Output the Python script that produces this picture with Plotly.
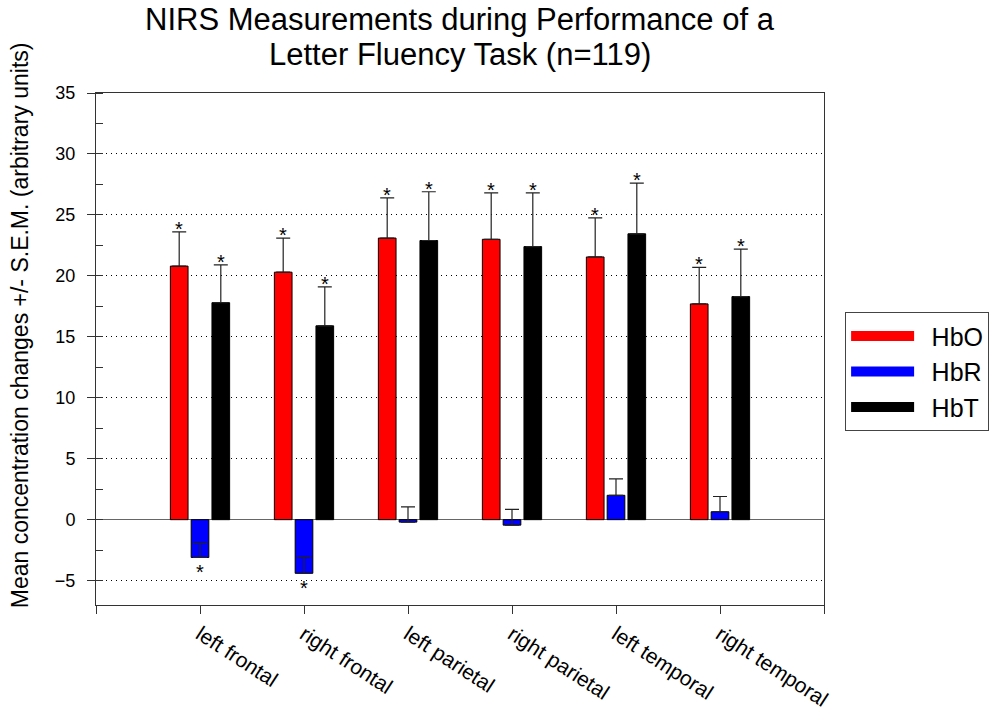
import plotly.graph_objects as go

regions = ["left frontal", "right frontal", "left parietal", "right parietal", "left temporal", "right temporal"]
series = ["HbO", "HbR", "HbT"]
hbo = [20.8, 20.3, 23.1, 23.0, 21.55, 17.7]
hbo_sem = [2.8, 2.8, 3.3, 3.8, 3.2, 3.0]
hbr = [-3.1, -4.4, -0.2, -0.45, 2.0, 0.65]
hbr_sem = [1.15, 1.35, 1.25, 1.3, 1.35, 1.25]
hbt = [17.8, 15.9, 22.9, 22.4, 23.45, 18.3]
hbt_sem = [3.1, 3.2, 4.0, 4.4, 4.15, 3.9]
hbo_sig = [True, True, True, True, True, True]
hbr_sig = [True, True, False, False, False, False]
hbt_sig = [True, True, True, True, True, True]
colors = ["#ff0000", "#0000ff", "#000000"]
title_lines = ["NIRS Measurements during Performance of a", "Letter Fluency Task (n=119)"]
y_title = "Mean concentration changes +/- S.E.M. (arbitrary units)"

x_pos = list(range(1, len(regions) + 1))
values = [hbo, hbr, hbt]
sems = [hbo_sem, hbr_sem, hbt_sem]
sigs = [hbo_sig, hbr_sig, hbt_sig]

FONT = "Liberation Sans, Arial, sans-serif"
BARGAP = 0.40
BARGROUPGAP = 0.15
n_series = len(series)
slot = (1 - BARGAP) / n_series

fig = go.Figure()
for name, vals, sem, col in zip(series, values, sems, colors):
    fig.add_trace(go.Bar(
        x=x_pos, y=vals, name=name, marker=dict(color=col, line=dict(color="#000000", width=1)),
        error_y=dict(type="data", array=sem, arrayminus=[0] * len(sem), symmetric=False,
                     color="#222222", thickness=1.2, width=7),
        showlegend=False, hoverinfo="skip",
    ))

# legend entries (wide swatches)
for name, col in zip(series, colors):
    fig.add_trace(go.Scatter(
        x=[None], y=[None], mode="lines", name="\u2002" + name,
        line=dict(color=col, width=14), showlegend=True, hoverinfo="skip",
    ))

annotations = []
# significance asterisks centred on each bar
for k, (vals, sem, sig) in enumerate(zip(values, sems, sigs)):
    offset = (k - (n_series - 1) / 2) * slot
    for xi, v, s, g in zip(x_pos, vals, sem, sig):
        if not g:
            continue
        if v >= 0:
            annotations.append(dict(x=xi + offset, y=v + s, xref="x", yref="y", text="*",
                                    showarrow=False, yanchor="middle", yshift=3,
                                    font=dict(size=20, family=FONT, color="#000000")))
        else:
            annotations.append(dict(x=xi + offset, y=v, xref="x", yref="y", text="*",
                                    showarrow=False, yanchor="middle", yshift=-15,
                                    font=dict(size=20, family=FONT, color="#000000")))

# title (two lines)
annotations.append(dict(text=title_lines[0], xref="paper", yref="paper", x=0.5, y=1.143,
                        xanchor="center", yanchor="middle", showarrow=False,
                        font=dict(size=31, family=FONT, color="#000000")))
annotations.append(dict(text=title_lines[1], xref="paper", yref="paper", x=0.5, y=1.075,
                        xanchor="center", yanchor="middle", showarrow=False,
                        font=dict(size=31, family=FONT, color="#000000")))
# y axis title
annotations.append(dict(text=y_title, textangle=-90, xref="paper", yref="paper", x=-0.104, y=0.547,
                        showarrow=False, font=dict(size=23, family=FONT, color="#000000"),
                        xanchor="center", yanchor="middle"))

fig.update_layout(
    width=1004, height=717,
    margin=dict(l=96, r=180, t=93, b=112),
    paper_bgcolor="white", plot_bgcolor="white",
    barmode="group", bargap=BARGAP, bargroupgap=BARGROUPGAP,
    font=dict(family=FONT, color="#000000"),
    legend=dict(x=1.029, y=0.572, xanchor="left", yanchor="top",
                bordercolor="#444444", borderwidth=1, bgcolor="white",
                font=dict(size=25, family=FONT), itemwidth=63,
                tracegroupgap=0),
    showlegend=True,
    xaxis=dict(range=[0, 7], tickmode="array", tickvals=list(range(0, 8)),
               ticktext=[""] + regions + [""], tickangle=33,
               tickfont=dict(size=21, family=FONT), automargin=False,
               showgrid=False, zeroline=False,
               showline=True, linecolor="#333333", linewidth=1, mirror=True,
               ticks="outside", ticklen=8, tickcolor="#333333"),
    yaxis=dict(range=[-7, 35], tickmode="linear", tick0=0, dtick=5,
               tickfont=dict(size=18, family=FONT), ticklabelstandoff=8, automargin=False,
               showgrid=True, gridcolor="#000000", gridwidth=1, griddash="1px,4px",
               zeroline=True, zerolinecolor="#666666", zerolinewidth=1,
               showline=True, linecolor="#333333", linewidth=1, mirror=True,
               ticks="outside", ticklen=8, tickcolor="#333333",
               minor=dict(dtick=2.5, tick0=0, ticks="inside", ticklen=7, tickcolor="#333333", showgrid=False)),
    annotations=annotations,
)

fig.write_html("out.html")
